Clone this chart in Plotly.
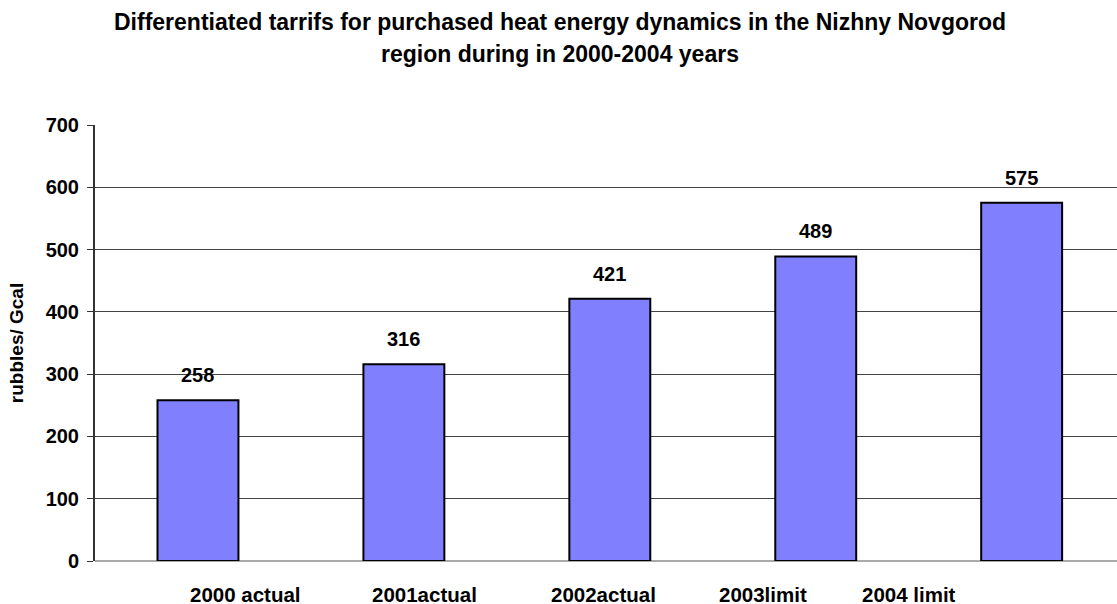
import plotly.graph_objects as go

categories = ["2000 actual", "2001actual", "2002actual", "2003limit", "2004 limit"]
values = [258, 316, 421, 489, 575]
y_ticks = [0, 100, 200, 300, 400, 500, 600, 700]
title_lines = ["Differentiated tarrifs for purchased heat energy dynamics in the Nizhny Novgorod",
               "region during in 2000-2004 years"]

# label positions (category units) where the source chart draws axis labels
label_pos = [0.233, 1.098, 1.967, 2.744, 3.453]

FONT = "Liberation Sans, Arial, sans-serif"

fig = go.Figure()
fig.add_trace(go.Bar(
    x=list(range(len(categories))), y=values,
    marker=dict(color="#8080FF", line=dict(color="#000000", width=2)),
    width=0.393,
))

annotations = []
for i, v in enumerate(values):
    annotations.append(dict(x=i, y=v, xref="x", yref="y", text=f"<b>{v}</b>",
                            showarrow=False, yanchor="bottom", yshift=12,
                            font=dict(family=FONT, size=20, color="#000")))
for p, c in zip(label_pos, categories):
    annotations.append(dict(x=p, y=0, xref="x", yref="y", text=f"<b>{c}</b>",
                            showarrow=False, yanchor="middle", yshift=-33, height=20,
                            font=dict(family=FONT, size=20.5, color="#000")))
for ty, t in zip([1.236, 1.162], title_lines):
    annotations.append(dict(x=0.455, y=ty, xref="paper", yref="paper", text=f"<b>{t}</b>",
                            showarrow=False, xanchor="center", yanchor="middle",
                            font=dict(family=FONT, size=23, color="#000")))

fig.update_layout(
    width=1117, height=604,
    paper_bgcolor="white", plot_bgcolor="white",
    margin=dict(l=95, r=0, t=125, b=43),
    showlegend=False,
    xaxis=dict(range=[-0.5, 4.463], showticklabels=False, showgrid=False,
               zeroline=False, showline=False, ticks=""),
    yaxis=dict(range=[0, 700], tickvals=y_ticks, showgrid=True, gridcolor="#444444",
               gridwidth=1, zeroline=True, zerolinecolor="#aaaaaa", zerolinewidth=2,
               showline=True, linecolor="#333333", linewidth=2,
               ticks="outside", ticklen=6, tickcolor="#333333",
               ticklabelstandoff=4,
               tickfont=dict(family=FONT, size=20, color="#000", weight="bold"),
               title=dict(text="<b>rubbles/ Gcal</b>", standoff=17,
                          font=dict(family=FONT, size=19, color="#000"))),
    annotations=annotations,
)

fig.write_html("out.html", config={"displayModeBar": False},
               post_script="document.body.style.margin='0';document.body.style.overflow='hidden';")
